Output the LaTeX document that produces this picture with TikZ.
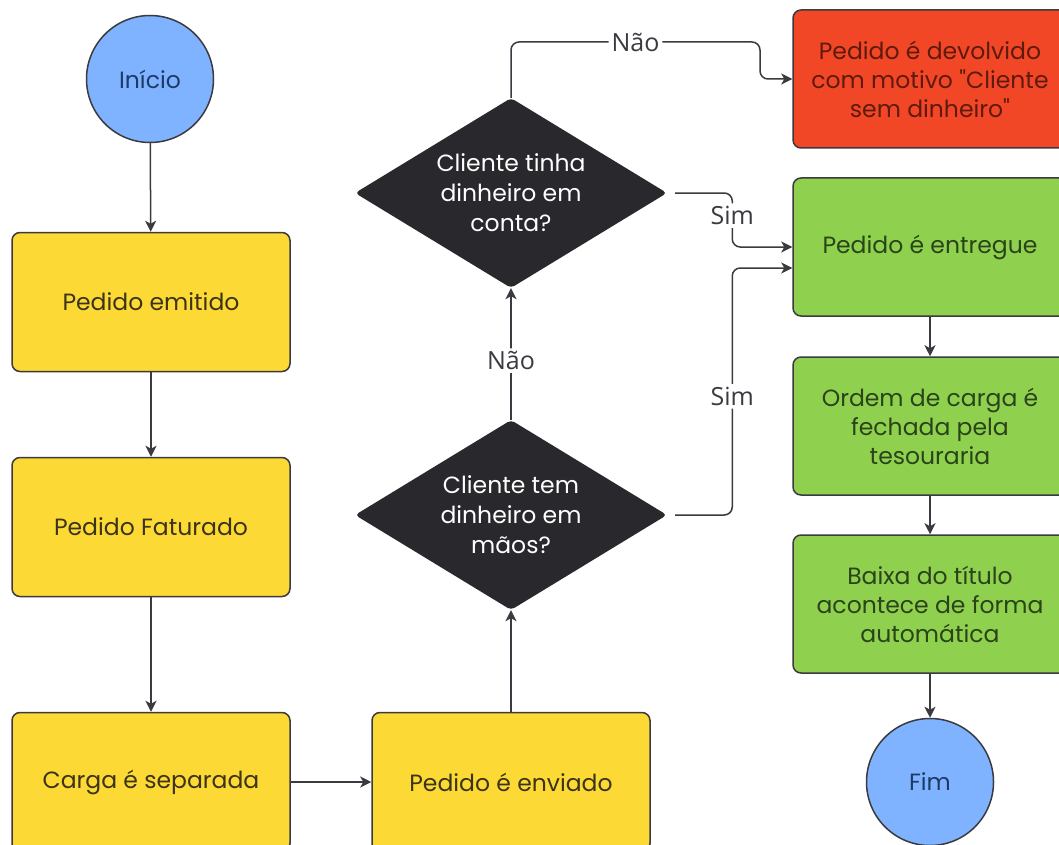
\documentclass[tikz,border=0pt]{standalone}
\usepackage{fontspec}
\newfontfamily\pop{Poppins}
\newfontfamily\labfont{Open Sans}
\usetikzlibrary{shapes.geometric,arrows.meta,calc}
\definecolor{yel}{HTML}{FDD935}
\definecolor{grn}{HTML}{8FD14F}
\definecolor{rd}{HTML}{F24726}
\definecolor{blu}{HTML}{80B3FF}
\definecolor{dk}{HTML}{28282D}
\definecolor{lineC}{HTML}{3A3A40}
\definecolor{ytxt}{HTML}{3B3418}
\definecolor{gtxt}{HTML}{2A4318}
\definecolor{rtxt}{HTML}{5E1A0C}
\definecolor{btxt}{HTML}{1E3A66}
\begin{document}
\begin{tikzpicture}[x=1pt,y=-1pt,
  base/.style={draw=lineC, line width=1.5pt, align=center, font=\pop\fontsize{23.5}{29}\selectfont},
  ybox/.style={base, rounded corners=8pt, fill=yel, text=ytxt, minimum width=278pt, minimum height=139pt},
  gbox/.style={base, rounded corners=8pt, fill=grn, text=gtxt, minimum width=274pt, minimum height=138pt},
  rbox/.style={base, rounded corners=8pt, fill=rd, text=rtxt, minimum width=274pt, minimum height=138pt},
  circ/.style={base, circle, fill=blu, text=btxt, minimum size=127pt, inner sep=0pt},
  dia/.style={diamond, fill=dk, text=white, align=center, shape aspect=1.64, minimum width=312pt, minimum height=190pt, inner sep=0pt, rounded corners=4pt, font=\pop\fontsize{23.5}{30}\selectfont},
  conn/.style={draw=lineC, line width=1.5pt, rounded corners=8pt, -{Stealth[length=11pt,width=11pt,inset=3pt]}},
  lab/.style={fill=white, text=lineC, inner sep=3pt, font=\labfont\fontsize{25}{28}\selectfont}
]
\useasboundingbox (0,0) rectangle (1059,845);
\clip (0,0) rectangle (1059,845);
\fill[white] (0,0) rectangle (1059,845);

\node[circ] (ini) at (150,79) {Início};
\node[ybox] (emit) at (151,302) {Pedido emitido};
\node[ybox] (fat) at (151,527) {Pedido Faturado};
\node[ybox] (carga) at (151,782) {Carga é separada};
\node[ybox] (env) at (511,782) {Pedido é enviado};
\node[dia] (d2) at (511,515) {Cliente tem\\dinheiro em\\mãos?};
\node[dia] (d1) at (511,193) {Cliente tinha\\dinheiro em\\conta?};
\node[rbox] (dev) at (930,79) {Pedido é devolvido\\com motivo "Cliente\\sem dinheiro"};
\node[gbox] (ent) at (930,247) {Pedido é entregue};
\node[gbox] (ord) at (930,426) {Ordem de carga é\\fechada pela\\tesouraria};
\node[gbox] (bai) at (930,604) {Baixa do título\\acontece de forma\\automática};
\node[circ] (fim) at (930,782) {Fim};

\coordinate (nao1) at (760,42);
\coordinate (sim1) at ($(ent.west)+(-60,0)$);
\coordinate (sim2) at ($(ent.west)+(-60,21)$);
\coordinate (ent2) at ($(ent.west)+(0,21)$);

\draw[conn] (ini) -- (emit);
\draw[conn] (emit) -- (fat);
\draw[conn] (fat) -- (carga);
\draw[conn] (carga) -- (env);
\draw[conn] (env) -- (d2);
\draw[conn] (d2.north) -- node[lab, pos=0.45] {Não} (d1.south);
\draw[conn] (d1.north) |- node[lab, pos=0.75] {Não} (nao1) |- (dev.west);
\draw[conn] ([xshift=8pt]d1.east) -| node[lab, pos=0.71] {Sim} (sim1) -- (ent.west);
\draw[conn] ([xshift=8pt]d2.east) -| node[lab, pos=0.74] {Sim} (sim2) -- (ent2);
\draw[conn] (ent) -- (ord);
\draw[conn] (ord) -- (bai);
\draw[conn] (bai) -- (fim);
\end{tikzpicture}
\end{document}
